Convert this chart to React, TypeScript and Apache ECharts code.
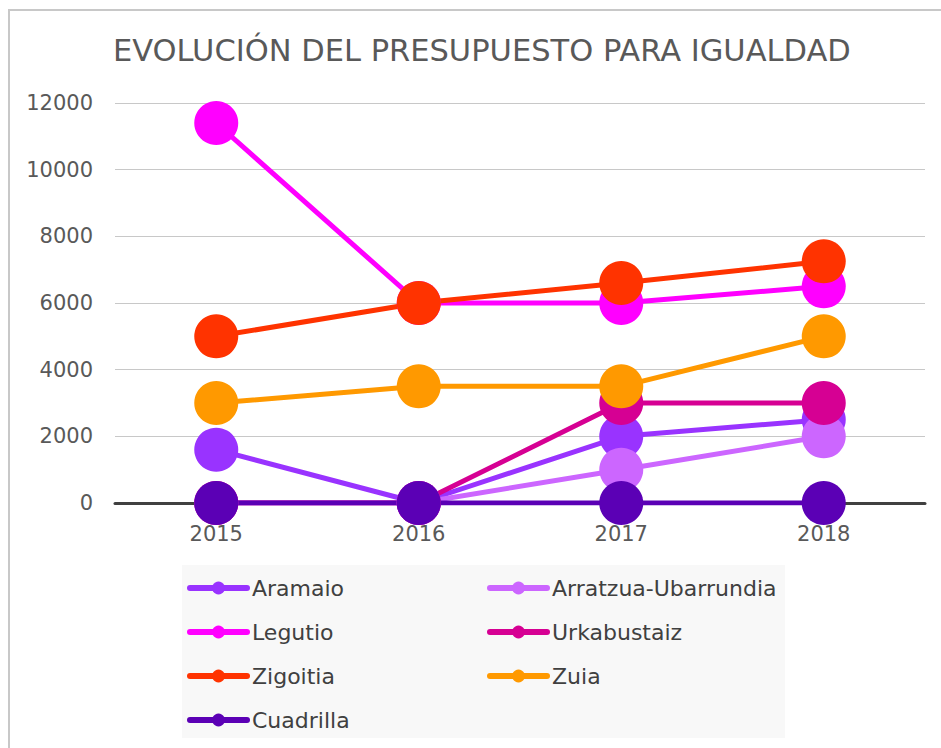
import React, { useEffect, useRef } from "react";
import * as echarts from "echarts";

const years = ["2015", "2016", "2017", "2018"];
const seriesNames = ["Aramaio", "Arratzua-Ubarrundia", "Legutio", "Urkabustaiz", "Zigoitia", "Zuia", "Cuadrilla"];
const aramaio = [1600, 0, 2000, 2500];
const arratzua = [0, 0, 1000, 2000];
const legutio = [11400, 6000, 6000, 6500];
const urkabustaiz = [0, 0, 3000, 3000];
const zigoitia = [5000, 6000, 6600, 7250];
const zuia = [3000, 3500, 3500, 5000];
const cuadrilla = [0, 0, 0, 0];
const colors = ["#9933FF", "#CC66FF", "#FF00FF", "#D60093", "#FF3300", "#FF9900", "#5B00B5"];
const values = [aramaio, arratzua, legutio, urkabustaiz, zigoitia, zuia, cuadrilla];

const FONT = "DejaVu Sans";

export default function App() {
  const ref = useRef<HTMLDivElement>(null);
  useEffect(() => {
    if (!ref.current) return;
    const chart = echarts.init(ref.current, null, { renderer: "svg" });
    const legendCommon = {
      orient: "vertical",
      itemWidth: 57,
      itemHeight: 16,
      itemGap: 22,
      padding: 0,
      top: 577,
      lineStyle: { width: 6, cap: "round" },
      textStyle: { fontFamily: FONT, fontSize: 22, color: "#404040", lineHeight: 22 },
    };
    chart.setOption({
      animation: false,
      backgroundColor: "#ffffff",
      title: {
        text: "EVOLUCIÓN DEL PRESUPUESTO PARA IGUALDAD",
        left: 108,
        top: 30,
        textStyle: { fontFamily: FONT, fontSize: 30.5, fontWeight: "normal", color: "#595959" },
      },
      graphic: [
        {
          type: "rect",
          shape: { x: 9, y: 10, width: 1000, height: 800 },
          style: { fill: "none", stroke: "#C8C8C8", lineWidth: 2 },
          silent: true,
        },
        {
          type: "rect",
          shape: { x: 182, y: 565, width: 603, height: 173 },
          style: { fill: "#F8F8F8" },
          silent: true,
        },
      ],
      legend: [
        { ...legendCommon, left: 187, data: ["Aramaio", "Legutio", "Zigoitia", "Cuadrilla"] },
        { ...legendCommon, left: 487, data: ["Arratzua-Ubarrundia", "Urkabustaiz", "Zuia"] },
      ],
      grid: { left: 115, right: 16, top: 103, bottom: 245 },
      xAxis: {
        type: "category",
        data: years,
        boundaryGap: true,
        axisLine: { lineStyle: { color: "#404040", width: 3 } },
        axisTick: { show: false },
        axisLabel: { fontFamily: FONT, fontSize: 21, color: "#595959", margin: 20 },
      },
      yAxis: {
        type: "value",
        min: 0,
        max: 12000,
        interval: 2000,
        axisLine: { show: false },
        axisTick: { show: false },
        axisLabel: {
          fontFamily: FONT,
          fontSize: 21,
          color: "#595959",
          margin: 22,
          formatter: (v: number) => String(v),
        },
        splitLine: { lineStyle: { color: "#C8C8C8", width: 1 } },
      },
      series: seriesNames.map((name, i) => ({
        name,
        type: "line",
        data: values[i],
        symbol: "circle",
        symbolSize: 44,
        color: colors[i],
        lineStyle: { width: 5, color: colors[i] },
        itemStyle: { color: colors[i] },
      })),
    });
    return () => chart.dispose();
  }, []);
  return <div ref={ref} style={{ position: "absolute", left: 0, top: 0, width: 941, height: 748 }} />;
}
